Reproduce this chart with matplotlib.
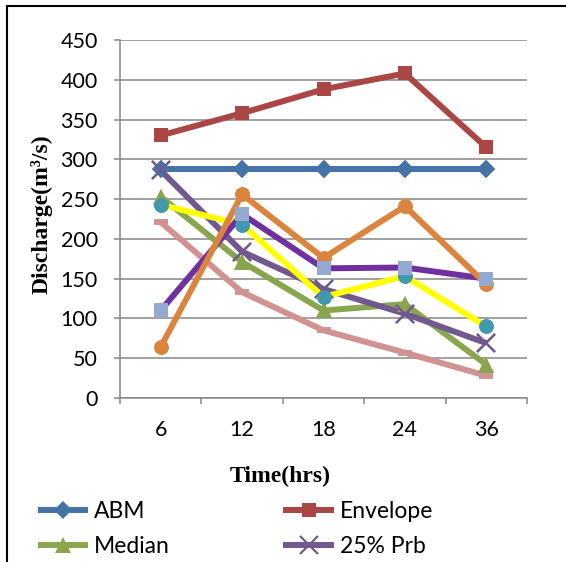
import matplotlib
matplotlib.use("Agg")
import matplotlib.pyplot as plt
from matplotlib.lines import Line2D

categories = ["6", "12", "18", "24", "36"]
abm = [288, 288, 288, 288, 288]
envelope = [330, 358, 388, 408, 315]
median = [253, 171, 110, 118, 42]
prb25 = [286, 184, 137, 106, 69]
series5 = [243, 218, 127, 153, 90]      # cyan markers, yellow line
series6 = [64, 256, 176, 241, 143]      # orange
series7 = [110, 231, 163, 164, 150]     # light-blue squares, purple line
series8 = [221, 133, 85, 57, 28]        # pink
yticks = [0, 50, 100, 150, 200, 250, 300, 350, 400, 450]

W, H = 566, 562
fig = plt.figure(figsize=(W / 100, H / 100), dpi=100)
ax = fig.add_axes([120 / W, 1 - 398 / H, (527 - 120) / W, (398 - 40) / H])

x = list(range(len(categories)))
LW = 4.3

specs = [
    # data, line color, marker, marker color, msize, label, line z, marker z
    (series8, "#D19392", "_", "#D19392", 10, None, 2.0, 10.0),
    (abm, "#4572A7", "D", "#4572A7", 9, "ABM", 2.1, 10.1),
    (envelope, "#AA4643", "s", "#AA4643", 10, "Envelope", 2.2, 10.2),
    (median, "#89A54E", "^", "#89A54E", 11, "Median", 2.3, 10.3),
    (prb25, "#71588F", "x", "#71588F", 13, "25% Prb", 2.4, 10.4),
    (series5, "#FFFF00", "o", "#4198AF", 10.5, None, 2.5, 10.5),
    (series7, "#7030A0", "s", "#93A9CF", 10.5, None, 2.6, 10.7),
    (series6, "#DB843D", "o", "#DB843D", 10.5, None, 2.7, 10.6),
]

handles = {}
for data, lc, mk, mc, ms, lab, lz, mz in specs:
    mew = 1.6 if mk == "x" else (4 if mk == "_" else 0)
    ln, = ax.plot(x, data, color=lc, lw=LW, marker=mk, markersize=ms,
                  markerfacecolor=mc, markeredgecolor=mc, markeredgewidth=mew,
                  zorder=lz, solid_capstyle="butt", clip_on=False)
    ax.plot(x, data, lw=0, marker=mk, markersize=ms,
            markerfacecolor=mc, markeredgecolor=mc, markeredgewidth=mew,
            zorder=mz, clip_on=False)
    if lab:
        handles[lab] = ln

ax.set_xlim(-0.5, len(categories) - 0.5)
ax.set_ylim(0, 450)
ax.set_yticks(yticks)
ax.set_yticklabels([str(v) for v in yticks])
ax.set_xticks(x)
ax.set_xticklabels(categories)
ax.set_xticks([i - 0.5 for i in range(len(categories) + 1)], minor=True)

grid_c = "#868686"
ax.grid(axis="y", color=grid_c, lw=1.1, zorder=0)
ax.set_axisbelow(True)
for s in ["top", "right"]:
    ax.spines[s].set_visible(False)
for s in ["left", "bottom"]:
    ax.spines[s].set_color(grid_c)
    ax.spines[s].set_linewidth(1.1)

tick_font = "Lato"
ax.tick_params(axis="y", which="major", length=4, width=1.1, color=grid_c,
               pad=12, labelsize=15.5)
ax.tick_params(axis="x", which="major", length=0, pad=16, labelsize=15.5)
ax.tick_params(axis="x", which="minor", length=4, width=1.1, color=grid_c)
for lbl in ax.get_xticklabels() + ax.get_yticklabels():
    lbl.set_fontfamily(tick_font)

ax.set_ylabel("Discharge(m³/s)", family="Liberation Serif", fontweight="bold",
              fontsize=17)
ax.yaxis.set_label_coords(-0.165, 0.514)
ax.set_xlabel("Time(hrs)", family="Liberation Serif", fontweight="bold",
              fontsize=17)
ax.xaxis.set_label_coords(0.393, -0.19)

order = ["ABM", "Median", "Envelope", "25% Prb"]
leg = fig.legend([handles[k] for k in order], order, ncol=2,
                 loc="upper left", bbox_to_anchor=(38 / W, 1 - 501 / H),
                 frameon=False, prop={"family": tick_font, "size": 16.5},
                 handlelength=2.2, handletextpad=0.25, columnspacing=4.95,
                 labelspacing=0.62, borderpad=0, borderaxespad=0)

# outer frame (top and left edges)
fig.add_artist(Line2D([7 / W, 1.0], [1 - 6 / H, 1 - 6 / H], color="black", lw=1.5))
fig.add_artist(Line2D([7 / W, 7 / W], [0.0, 1 - 6 / H], color="black", lw=1.5))

fig.savefig("out.png", dpi=100)
